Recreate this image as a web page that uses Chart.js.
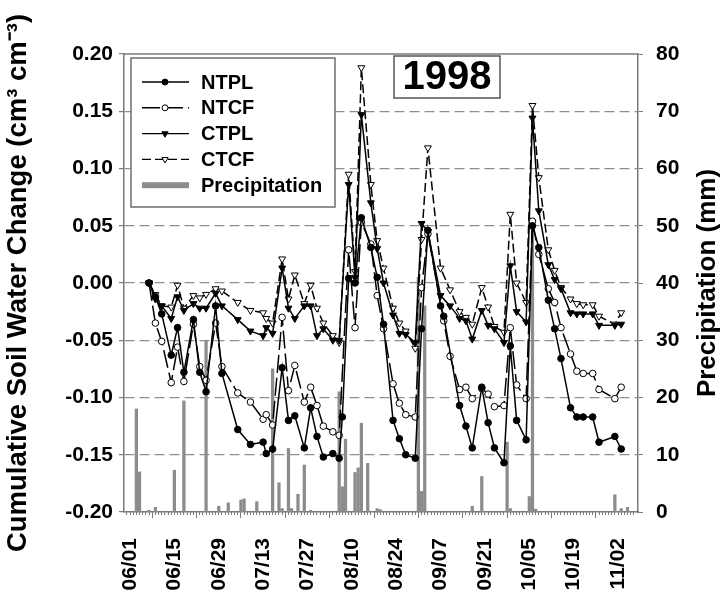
<!DOCTYPE html>
<html>
<head>
<meta charset="utf-8">
<script src="https://cdn.jsdelivr.net/npm/chart.js"></script>
<style>
html,body{margin:0;padding:0;background:#fff;}
#wrap{width:722px;height:594px;}
</style>
</head>
<body>
<div id="wrap"><canvas id="c" width="722" height="594"></canvas></div>
<script>
// sampling dates (1998) and cumulative soil water change, cm3 cm-3
const dates = ['06/07','06/09','06/11','06/14','06/16','06/18','06/21','06/23','06/25','06/28','06/30',
  '07/05','07/09','07/13','07/14','07/16','07/19','07/21','07/23','07/26','07/28','07/30',
  '08/01','08/04','08/06','08/07','08/09','08/11','08/13','08/16','08/18','08/20','08/23','08/25','08/27','08/30',
  '09/01','09/03','09/07','09/08','09/10','09/13','09/15','09/17','09/20','09/22','09/24','09/27','09/29',
  '10/01','10/04','10/06','10/08','10/11','10/13','10/15','10/18','10/20','10/22','10/25','10/27',
  '11/01','11/03'];
const ntpl = [0,-0.012,-0.027,-0.063,-0.039,-0.078,-0.032,-0.078,-0.095,-0.020,-0.079,
  -0.128,-0.141,-0.139,-0.149,-0.145,-0.074,-0.120,-0.116,-0.144,-0.109,-0.134,
  -0.152,-0.149,-0.153,-0.117,0.004,0.000,0.057,0.031,0.005,-0.036,-0.120,-0.136,-0.150,-0.153,
  -0.040,0.046,-0.020,-0.029,null,-0.107,-0.125,-0.144,-0.091,-0.122,-0.144,-0.157,-0.055,
  -0.120,-0.137,0.050,0.031,-0.015,-0.040,-0.066,-0.109,-0.117,-0.117,-0.117,-0.139,
  -0.134,-0.145];
const ntcf = [0,-0.035,-0.051,-0.087,-0.056,-0.086,-0.036,-0.073,-0.085,-0.035,-0.073,
  -0.096,-0.104,-0.119,-0.115,-0.124,-0.030,-0.094,-0.072,-0.104,-0.091,-0.107,
  -0.125,-0.130,-0.133,null,0.029,-0.039,0.053,0.034,-0.011,-0.040,-0.088,-0.105,-0.115,-0.117,
  -0.004,0.043,null,-0.033,-0.064,-0.093,-0.091,-0.101,-0.092,-0.097,-0.108,-0.107,-0.039,
  -0.089,-0.101,0.054,0.025,-0.005,-0.017,-0.039,-0.062,-0.077,-0.079,-0.079,-0.093,
  -0.101,-0.091];
const ctpl = [0,-0.014,-0.020,-0.031,-0.012,-0.024,-0.018,-0.022,-0.022,-0.009,-0.020,
  -0.032,-0.042,-0.046,-0.039,-0.044,0.013,-0.022,-0.031,-0.020,-0.020,-0.046,
  -0.040,-0.050,-0.050,null,0.086,0.005,0.147,0.070,0.030,0.000,-0.028,-0.044,-0.045,-0.052,
  0.052,0.045,-0.011,null,-0.020,-0.031,-0.033,-0.049,-0.024,-0.037,-0.040,-0.052,0.015,
  -0.025,-0.034,0.144,0.063,0.016,0.003,-0.005,-0.026,-0.027,-0.027,-0.027,-0.037,
  -0.037,-0.036];
const ctcf = [0,-0.010,-0.020,-0.021,-0.002,-0.022,-0.011,-0.013,-0.010,-0.005,-0.007,
  -0.017,-0.024,-0.026,-0.031,-0.035,0.021,-0.014,0.007,-0.018,-0.002,-0.022,
  -0.035,-0.046,-0.052,null,0.095,0.010,0.188,0.086,0.037,0.013,-0.022,-0.035,-0.042,-0.057,
  0.038,0.118,0.013,null,-0.006,-0.025,-0.030,-0.036,-0.004,-0.021,-0.038,-0.043,0.060,
  0.000,-0.017,0.155,0.092,0.029,0.011,-0.004,-0.014,-0.018,-0.019,-0.019,-0.029,
  -0.036,-0.026];

// daily precipitation, mm
const rainDates = ['06/03','06/04','06/07','06/09','06/15','06/18','06/25','06/29','07/02','07/06','07/07','07/11',
  '07/16','07/18','07/19','07/21','07/22','07/24','07/26','07/28','08/06','08/07','08/08','08/11','08/12','08/13','08/15',
  '08/18','08/19','08/31','09/01','09/02','09/17','09/20','09/28','09/29','10/05','10/06','10/07','11/01','11/03','11/05'];
const rainMm = [18,7,0.3,0.8,7.3,19.4,30,1.0,1.6,2.1,2.3,1.8,
  25,5.1,0.6,11.1,0.6,3.1,8.2,0.3,21,4.4,12.7,6.9,7.7,15.5,8.5,
  0.6,0.4,41,3.6,36,1.0,6.2,12.2,0.6,2.7,50,0.5,3.0,0.6,0.8];

const xTickDates = ['06/01','06/15','06/29','07/13','07/27','08/10','08/24','09/07','09/21','10/05','10/19','11/02'];

const day0 = Date.UTC(1998,5,1);
function dayOf(s){ const [m,d]=s.split('/').map(Number); return (Date.UTC(1998,m-1,d)-day0)/864e5; }
function labelOf(v){
  const t=new Date(day0+Math.round(v)*864e5);
  return String(t.getUTCMonth()+1).padStart(2,'0')+'/'+String(t.getUTCDate()).padStart(2,'0');
}
const pts = vals => dates.map((d,i)=>({x:dayOf(d), y:vals[i]}));

const FONT = 'Liberation Sans, Arial, sans-serif';
const AX = '#7a7a7a';
const XMIN = -1.9, XMAX = 160.3;

function lineSet(label, vals, dash, style, fill, r, order){
  return {type:'line', label, data:pts(vals), yAxisID:'y', xAxisID:'x',
    borderColor:'#000', borderWidth:1.5, borderDash:dash, spanGaps:true, tension:0,
    pointStyle:style, pointRotation: style==='triangle'?180:0, pointRadius:r,
    pointBackgroundColor:fill, pointBorderColor:'#000', pointBorderWidth:1, order};
}

const decor = {
  id:'decor',
  afterDraw(chart){
    const ctx = chart.ctx, a = chart.chartArea;
    ctx.save();
    // top frame line
    ctx.strokeStyle = AX; ctx.lineWidth = 1.5;
    ctx.beginPath(); ctx.moveTo(a.left, a.top); ctx.lineTo(a.right, a.top); ctx.stroke();

    // legend box
    ctx.fillStyle = '#fff'; ctx.strokeStyle = '#6e6e6e'; ctx.lineWidth = 1.5;
    ctx.fillRect(131,58,204,149); ctx.strokeRect(131,58,204,149);
    const order = ['NTPL','NTCF','CTPL','CTCF','Precipitation'];
    ctx.font = 'bold 20px ' + FONT; ctx.textBaseline = 'middle'; ctx.textAlign = 'left';
    order.forEach((lab,i)=>{
      const ds = chart.data.datasets.find(d=>d.label===lab);
      const y = 82 + i*25.8;
      if (ds.type==='bar'){
        ctx.fillStyle = ds.backgroundColor; ctx.fillRect(142, y-3, 47, 6);
      } else {
        ctx.strokeStyle = '#000'; ctx.lineWidth = 1.4; ctx.setLineDash(ds.borderDash);
        ctx.beginPath(); ctx.moveTo(142,y); ctx.lineTo(189,y); ctx.stroke(); ctx.setLineDash([]);
        ctx.fillStyle = ds.pointBackgroundColor; ctx.lineWidth = 1;
        ctx.beginPath();
        if (ds.pointStyle==='circle') ctx.arc(165,y,3,0,Math.PI*2);
        else { const r=3.6; ctx.moveTo(165,y+r); ctx.lineTo(165-r*0.866,y-r/2); ctx.lineTo(165+r*0.866,y-r/2); ctx.closePath(); }
        ctx.fill(); ctx.stroke();
      }
      ctx.fillStyle = '#000'; ctx.fillText(lab, 201, y+1);
    });

    // year box
    ctx.fillStyle = '#fff'; ctx.strokeStyle = '#555'; ctx.lineWidth = 1.5;
    ctx.fillRect(394,56,106,42); ctx.strokeRect(394,56,106,42);
    ctx.fillStyle = '#000'; ctx.font = 'bold 40px ' + FONT; ctx.textAlign = 'center';
    ctx.fillText('1998', 447, 78);

    // right axis title, reading bottom to top
    ctx.translate(708, 283); ctx.rotate(-Math.PI/2);
    ctx.font = 'bold 26px ' + FONT; ctx.textAlign = 'center'; ctx.textBaseline = 'middle';
    ctx.fillText('Precipitation (mm)', 0, 0);
    ctx.restore();
  }
};

new Chart(document.getElementById('c'), {
  type:'line',
  data:{datasets:[
    {type:'bar', label:'Precipitation', data:rainDates.map((d,i)=>({x:dayOf(d), y:rainMm[i]})),
      yAxisID:'y2', xAxisID:'x', backgroundColor:'#8c8c8c', barThickness:2.6, order:10},
    lineSet('CTCF', ctcf, [9,4], 'triangle', '#fff', 4, 4),
    lineSet('CTPL', ctpl, [], 'triangle', '#000', 4, 3),
    lineSet('NTCF', ntcf, [18,5], 'circle', '#fff', 3.3, 2),
    lineSet('NTPL', ntpl, [], 'circle', '#000', 3.3, 1)
  ]},
  options:{
    responsive:false, animation:false, devicePixelRatio:1,
    layout:{padding:{top:54,left:0,right:0,bottom:0}},
    plugins:{legend:{display:false}, tooltip:{enabled:false}},
    scales:{
      xd:{type:'linear', position:'bottom', weight:0, min:XMIN, max:XMAX,
        afterBuildTicks:s=>{ s.ticks = Array.from({length:161},(_,i)=>({value:i-1})); },
        afterFit:s=>{ s.height = 0; },
        ticks:{display:false},
        grid:{drawOnChartArea:false, tickLength:3, tickColor:AX, lineWidth:1},
        border:{display:false}},
      x:{type:'linear', position:'bottom', weight:1, min:XMIN, max:XMAX, offset:false,
        afterBuildTicks:s=>{ s.ticks = xTickDates.map(d=>({value:dayOf(d)})); },
        afterFit:s=>{ s.height = 82; },
        ticks:{autoSkip:false, minRotation:90, maxRotation:90, padding:20, color:'#000',
          font:{family:FONT, size:21, weight:'bold'}, callback:v=>labelOf(v)},
        grid:{drawOnChartArea:false, tickLength:6, tickColor:AX, lineWidth:1},
        border:{display:true, color:AX, width:1.5}},
      y:{type:'linear', position:'left', min:-0.2, max:0.2,
        afterFit:s=>{ s.width = 124; },
        ticks:{stepSize:0.05, padding:6, color:'#000', font:{family:FONT, size:21, weight:'bold'},
          callback:v=>v.toFixed(2)},
        grid:{color:c=>Math.abs(Math.abs(c.tick.value)-0.2)<1e-6?'rgba(0,0,0,0)':'#8f8f8f',
          tickColor:AX, tickLength:5, lineWidth:1.2},
        border:{display:true, color:AX, width:1.5, dash:[10,5]},
        title:{display:true, text:'Cumulative Soil Water Change (cm\u00B3 cm\u207B\u00B3)', color:'#000',
          font:{family:FONT, size:27.5, weight:'bold'}, padding:{top:2,bottom:0}}},
      y2:{type:'linear', position:'right', min:0, max:80,
        afterFit:s=>{ s.width = 84; },
        ticks:{stepSize:10, padding:13, color:'#000', font:{family:FONT, size:21, weight:'bold'}},
        grid:{drawOnChartArea:false, tickColor:AX, tickLength:5},
        border:{display:true, color:AX, width:1.5}}
    }
  },
  plugins:[decor]
});
</script>
</body>
</html>
